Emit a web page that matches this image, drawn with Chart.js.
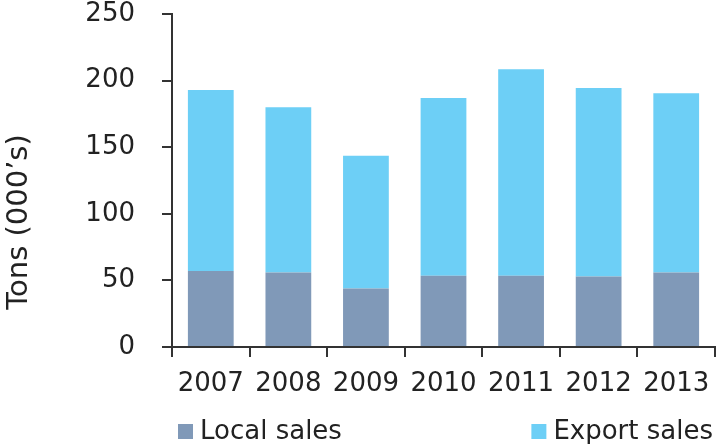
<!DOCTYPE html>
<html>
<head>
<meta charset="utf-8">
<script src="https://cdn.jsdelivr.net/npm/chart.js@4"></script>
<style>
  html, body { margin: 0; padding: 0; background: #fff; }
  #wrap { width: 716px; height: 444px; }
</style>
</head>
<body>
<div id="wrap"><canvas id="sales"></canvas></div>
<script>
const years = ['2007', '2008', '2009', '2010', '2011', '2012', '2013'];
const localSales = [57, 56, 44, 53.5, 53.5, 53, 56];
const exportSales = [136, 124, 99.5, 133.5, 155, 141.5, 134.5];
const yTicks = [0, 50, 100, 150, 200, 250];

const FONT = 'DejaVu Sans';
const INK = '#222';
const AXIS = '#333';

// rotated axis caption on the left
const yCaption = {
    id: 'yCaption',
    afterDraw(chart) {
        const ctx = chart.ctx;
        ctx.save();
        ctx.translate(19, 222);
        ctx.rotate(-Math.PI / 2);
        ctx.font = '29px "' + FONT + '"';
        ctx.fillStyle = INK;
        ctx.textAlign = 'center';
        ctx.textBaseline = 'middle';
        ctx.fillText('Tons (000\u2019s)', 0, 0);
        ctx.restore();
    }
};

// legend: first entry under the axis start, second pushed to the right edge
const splitLegend = {
    id: 'splitLegend',
    afterDraw(chart) {
        const ctx = chart.ctx;
        const ds = chart.data.datasets;
        const box = 15, gap = 7, base = 439;
        ctx.save();
        ctx.font = '26px "' + FONT + '"';
        ctx.textBaseline = 'alphabetic';

        let x = chart.chartArea.left + 6;
        ctx.fillStyle = ds[0].backgroundColor;
        ctx.fillRect(x, base - box, box, box);
        ctx.fillStyle = INK;
        ctx.textAlign = 'left';
        ctx.fillText(ds[0].label, x + box + gap, base);

        const right = chart.width - 3;
        const w = ctx.measureText(ds[1].label).width;
        ctx.fillText(ds[1].label, right - w, base);
        ctx.fillStyle = ds[1].backgroundColor;
        ctx.fillRect(right - w - gap - box, base - box, box, box);
        ctx.restore();
    }
};

new Chart(document.getElementById('sales'), {
    type: 'bar',
    data: {
        labels: years,
        datasets: [
            { label: 'Local sales', data: localSales, backgroundColor: '#8099b8' },
            { label: 'Export sales', data: exportSales, backgroundColor: '#6dcff6' }
        ]
    },
    options: {
        responsive: true,
        maintainAspectRatio: false,
        animation: false,
        layout: { padding: { top: 14, right: 1, bottom: 33, left: 0 } },
        datasets: { bar: { barPercentage: 0.59, categoryPercentage: 1 } },
        scales: {
            x: {
                stacked: true,
                afterFit(scale) {
                    // let the axis run all the way to the right edge
                    scale.paddingLeft = 0;
                    scale.paddingRight = 0;
                },
                border: { color: AXIS, width: 2 },
                grid: { drawOnChartArea: false, color: AXIS, lineWidth: 2, tickLength: 10 },
                ticks: { color: INK, padding: 14, font: { family: FONT, size: 26, lineHeight: 1 } }
            },
            y: {
                stacked: true,
                min: 0,
                max: 250,
                afterFit(scale) {
                    // fixed gutter; the wide label gap should not push the plot down
                    scale.width = 172;
                    scale.paddingTop = 0;
                    scale.paddingBottom = 0;
                },
                afterBuildTicks(scale) { scale.ticks = yTicks.map(v => ({ value: v })); },
                border: { color: AXIS, width: 2 },
                grid: { drawOnChartArea: false, color: AXIS, lineWidth: 2, tickLength: 10 },
                ticks: { color: INK, padding: 27, font: { family: FONT, size: 26, lineHeight: 1 } }
            }
        },
        plugins: {
            legend: { display: false },
            tooltip: { enabled: false }
        }
    },
    plugins: [yCaption, splitLegend]
});
</script>
</body>
</html>
